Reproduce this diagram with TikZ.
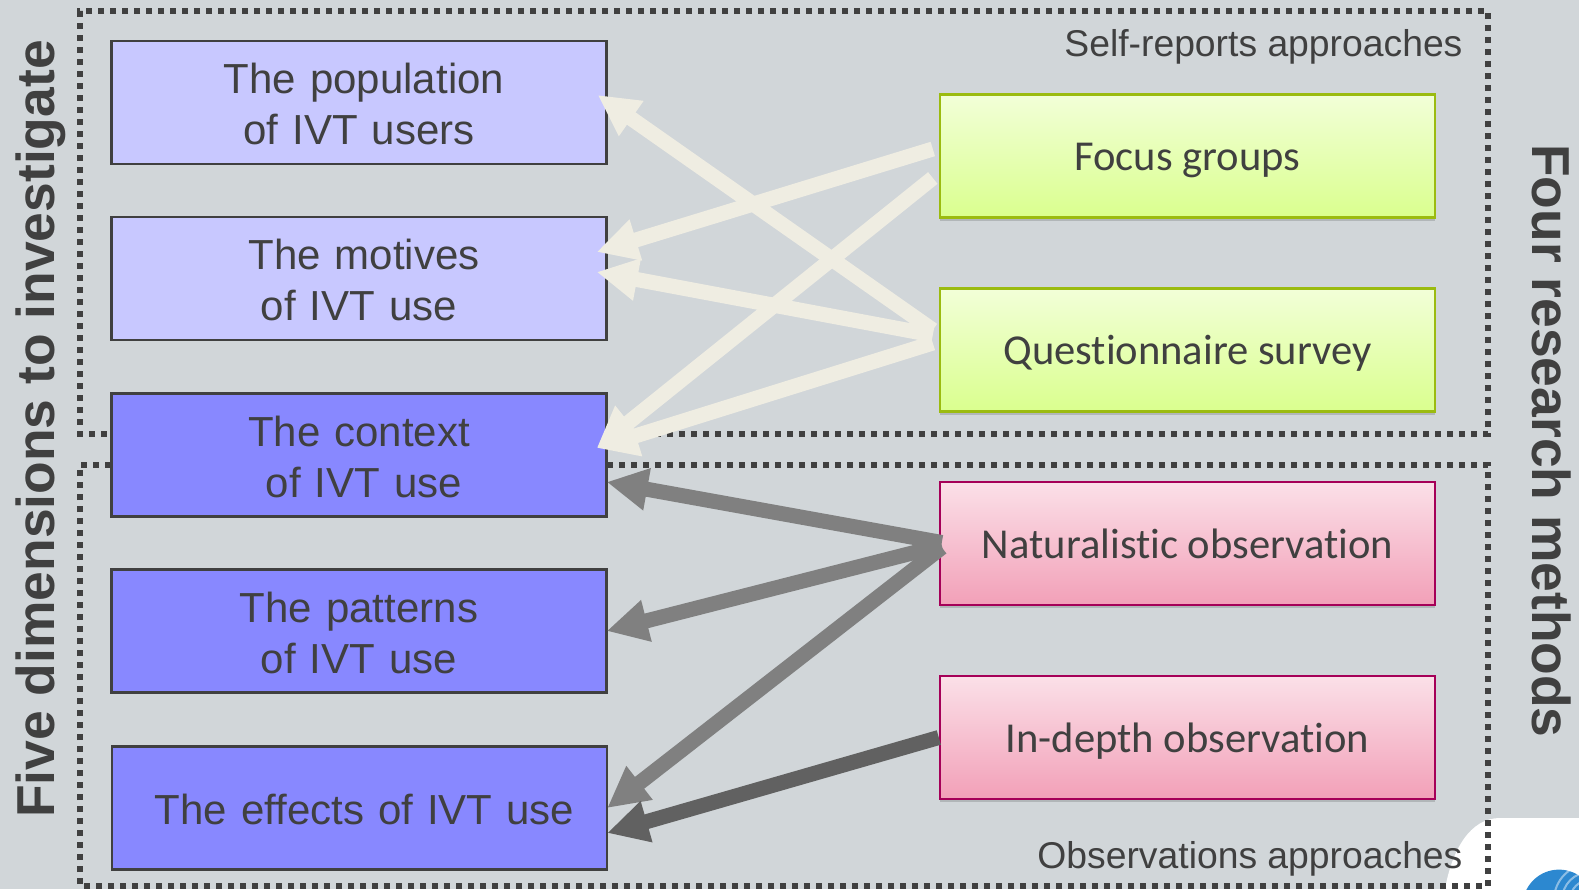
\documentclass[tikz,border=0pt]{standalone}
\usepackage{fontspec}
\setmainfont{Liberation Sans}
\newfontfamily\calfont[Ligatures=NoCommon]{Carlito}
\usepackage{tikz}
\usetikzlibrary{arrows.meta, positioning, shadows}
\definecolor{panelbg}{HTML}{D1D6D9}
\definecolor{inktext}{HTML}{404040}
\definecolor{dimlight}{HTML}{C8C8FF}
\definecolor{dimdark}{HTML}{8888FF}
\definecolor{creamarrow}{HTML}{EFEDE2}
\definecolor{greenedge}{HTML}{9BBB10}
\definecolor{greentop}{HTML}{F2FFD8}
\definecolor{greenbot}{HTML}{DAFF8E}
\definecolor{pinkedge}{HTML}{A50058}
\definecolor{pinktop}{HTML}{FBE0E8}
\definecolor{pinkbot}{HTML}{F2A0B8}
\definecolor{logoblue}{HTML}{2C88D0}
\newcommand{\topgap}{\rule{0pt}{34pt}}
\newcommand{\mgap}{\rule[-10pt]{0pt}{49pt}}
\tikzset{%
	dim/.style={draw=inktext, line width=2.4pt, minimum width=495pt, minimum height=123pt,%
		inner sep=0pt, text width=490pt, align=center, text=inktext, font=\fontsize{42}{51}\selectfont},
	dimA/.style={dim, fill=dimlight},
	dimB/.style={dim, fill=dimdark},
	method/.style={line width=2.4pt, minimum width=495pt, minimum height=123pt, inner sep=0pt,%
		text=inktext, font=\calfont\fontsize{42.6}{51}\selectfont,%
		drop shadow={shadow xshift=0pt, shadow yshift=-3pt, opacity=0.15, fill=black}},
	selfm/.style={method, draw=greenedge, top color=greentop, bottom color=greenbot},
	obsm/.style={method, draw=pinkedge, top color=pinktop, bottom color=pinkbot},
	zone/.style={draw=inktext, line width=6.5pt, dash pattern=on 6pt off 6pt},
	lnk/.style={-{Triangle[length=41pt,width=40pt]}, line width=15pt},
	side/.style={text=inktext, font=\bfseries\fontsize{53.4}{60}\selectfont},
	zonetext/.style={text=inktext, font=\fontsize{37.3}{44}\selectfont}
}
\begin{document}
\begin{tikzpicture}[x=1pt, y=-1pt]
	\useasboundingbox (0,0) rectangle (1579,889);
	\fill[panelbg] (0,0) rectangle (1579,889);
	% corner behind the logo
	\fill[white] (1445,889) .. controls (1452,850) and (1470,818) .. (1500,818) -- (1579,818) -- (1579,889) -- cycle;
	\begin{scope}
		\clip (1500,850) rectangle (1579,889);
		\fill[logoblue] (1559,906) circle (36.4);
		\foreach \r in {12,20,28,36}
			\draw[white, opacity=0.45, line width=2pt] (1590,900) circle (\r);
	\end{scope}

	\draw[zone] (607,434) -- (1488,434) -- (1488,11) -- (80,11) -- (80,434) -- (111,434);
	\draw[zone] (607,465) -- (1488,465) -- (1488,886) -- (80,886) -- (80,465) -- (111,465);

	\node[dimA] (pop) at (359,102.5) {\topgap\hspace*{10pt}The population\\of IVT users};
	\node[dimA] (mot) at (359,278.5) {\topgap\hspace*{10pt}The motives\\of IVT use};
	\node[dimB] (con) at (359,455) {\topgap The context\\\hspace*{10pt}of IVT use};
	\node[dimB] (pat) at (359,631) {\topgap The patterns\\of IVT use};
	\node[dimB] (eff) at (359.5,808) {\topgap\hspace*{10pt}The effects of IVT use};

	\node[selfm] (foc) at (1187.5,156) {\mgap Focus groups};
	\node[selfm] (que) at (1187.5,350) {\mgap Questionnaire survey};
	\node[obsm] (nat) at (1187.5,543.5) {\mgap Naturalistic observation};
	\node[obsm] (ind) at (1187.5,737.5) {\mgap In-depth observation};

	\node[zonetext, anchor=base east] (selflab) at (1466,56) {Self-reports approaches};
	\node[zonetext, anchor=base east] (obslab) at (1466,868) {Observations approaches};
	\node[side, rotate=90] (leftlab) at (41,429) {Five dimensions to investigate};
	\node[side, rotate=-90] (rightlab) at (1552,441) {Four research methods};

	\draw[lnk, creamarrow] ([xshift=-6pt, yshift=20pt]que.west) -- ([xshift=-10pt, yshift=7.5pt]pop.east);
	\draw[lnk, creamarrow] ([xshift=-6pt, yshift=7pt]foc.west) -- ([xshift=-11pt, yshift=26.5pt]mot.east);
	\draw[lnk, creamarrow] ([xshift=-6pt, yshift=-22pt]foc.west) -- ([xshift=-11pt, yshift=7pt]con.east);
	\draw[lnk, creamarrow] ([xshift=-6pt, yshift=15pt]que.west) -- ([xshift=-11pt, yshift=6.5pt]mot.east);
	\draw[lnk, creamarrow] ([xshift=-6pt, yshift=7pt]que.west) -- ([xshift=-11pt, yshift=7pt]con.east);

	\draw[lnk, gray] ([xshift=3pt, yshift=1pt]nat.west) -- ([xshift=-1pt, yshift=-27pt]con.east);
	\draw[lnk, gray] ([xshift=3pt, yshift=-2pt]nat.west) -- ([xshift=-1pt]pat.east);
	\draw[lnk, gray] ([xshift=3pt, yshift=-4pt]nat.west) -- ([xshift=-1pt]eff.east);
	\draw[lnk, black!62] (ind.west) -- ([xshift=-1pt, yshift=-25pt]eff.east);
\end{tikzpicture}
\end{document}
